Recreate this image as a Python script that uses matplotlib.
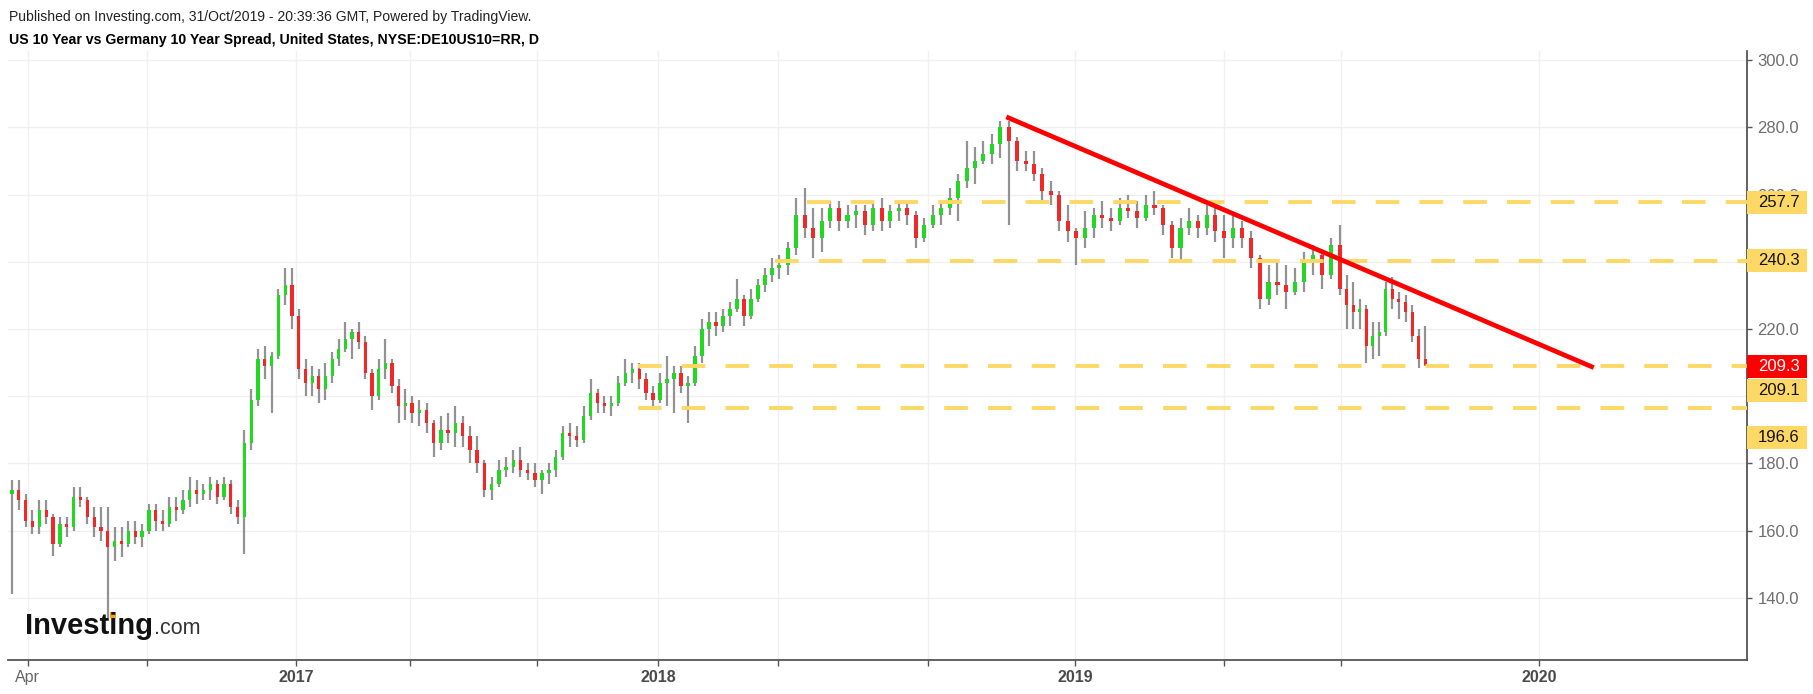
import numpy as np
import pandas as pd
import matplotlib
matplotlib.use("Agg")
import matplotlib.pyplot as plt
import matplotlib.dates as mdates
import matplotlib.transforms as mtrans
from matplotlib.patches import Rectangle

plt.rcParams['font.family'] = ['Liberation Sans', 'DejaVu Sans']
plt.rcParams['lines.scale_dashes'] = False

# ---------------- data (weekly OHLC) ----------------
week_start = "2016-03-14"
n_weeks = 190

opens = [171,172,169,163,161,166,164,156,162,161,170,169,164,161,160,155,157,156,160,158,
         160,166,163,162,167,166,169,172,171,172,174,170,174,167,164,186,199,211,209,212,230,233,
         224,208,204,206,202,206,211,214,217,219,216,207,200,208,210,203,197,198,195,196,
         192,186,190,189,192,188,184,180,172,174,178,179,181,178,177,175,177,178,182,189,
         188,187,194,201,198,197,198,204,207,208,205,201,
         199,204,205,207,203,204,212,220,222,221,224,226,229,224,229,233,236,238,239,244,
         254,250,247,252,256,252,254,255,251,256,252,255,256,254,247,251,254,256,259,264,
         268,270,272,275,280,276,270,269,266,261,260,252,249,
         247,250,254,253,252,256,255,253,257,256,251,244,250,252,250,254,249,247,250,247,
         241,229,234,233,231,234,240,242,236,245,232,227,225,226,215,218,219,232,229,228,
         225,218,211]
highs = [175,175,171,166,169,169,165,164,164,173,173,170,167,167,167,161,161,163,163,162,
         168,168,166,170,170,172,176,175,174,176,175,176,175,169,190,202,214,215,213,232,238,238,
         226,211,209,208,210,213,217,222,220,222,218,208,211,217,211,205,202,200,199,198,
         193,194,195,197,194,191,188,181,176,181,182,184,185,180,180,178,180,184,191,192,
         191,197,205,202,200,200,206,211,210,210,207,203,
         207,212,209,209,206,215,223,225,225,226,228,235,230,232,235,238,241,242,246,259,
         262,256,256,258,258,257,257,257,258,259,257,258,258,255,253,257,258,262,266,276,
         274,276,278,282,282,277,273,273,268,264,261,257,250,
         255,256,258,256,259,260,258,260,261,257,252,253,256,254,257,256,254,254,252,249,
         242,239,240,239,238,243,245,243,247,251,236,234,229,227,222,222,234,235.5,231,230,
         227,220,221]
lows = [141,166,161,159,159,162,152.5,155,158,160,167,162,158,157,134,151,152,155,156,155,
        159,160,160,161,163,165,167,168,169,169,168,169,165,162,153,184,197,205,195,211,227,220,
        205,200,200,198,199,204,209,213,211,214,205,196,199,205,201,192,193,192,191,189,
        182,184,186,185,185,180,177,170,169,173,176,177,176,175,173,171,174,176,181,185,
        185,186,193,195,195,194,197,203,204,202,199,196,
        198,197,195,201,192,203,210,215,218,219,221,225,221,223,228,231,234,235,236,242,
        247,241,243,250,249,250,250,248,249,249,250,252,251,244,246,250,251,254,252,262,
        263,269,269,271,251,267,267,264,258,257,249,246,239,
        244,247,250,249,251,253,250,252,254,248,241,240,248,247,248,246,241,244,244,238,
        226,227,230,226,230,231,236,232,235,230,220,220,220,210,211,212,218,226,223,222,
        216,208.5,209]
closes = [172,169,163,161,166,164,156,162,161,170,169,164,161,160,155,157,156,160,158,160,
          166,163,162,167,166,169,172,171,172,174,170,174,167,164,186,199,211,209,212,230,233,224,
          208,204,206,202,206,211,214,217,219,216,207,200,208,210,203,197,198,195,196,192,
          186,190,189,192,188,184,180,172,174,178,179,181,178,177,175,177,178,182,189,188,
          187,194,201,198,197,198,204,207,208,205,201,199,
          204,205,207,203,204,212,220,222,221,224,226,229,224,229,233,236,238,239,244,254,
          250,247,252,256,252,254,255,251,256,252,255,256,254,247,251,254,256,259,264,268,
          270,272,275,280,276,270,269,266,261,260,252,249,247,
          250,254,253,252,256,255,253,257,256,251,244,250,252,250,254,249,247,250,247,241,
          229,234,233,231,234,240,242,236,245,232,227,225,226,215,218,219,232,229,228,225,
          218,211,209.3]

# horizontal support / resistance levels and their start dates
level_values = [257.7, 240.3, 209.1, 196.6]
level_starts = ["2018-05-25", "2018-04-28", "2017-12-12", "2017-12-12"]
last_price = 209.3

# trend line (start date, value) -> (end date, value)
trend_dates = ["2018-11-05", "2020-01-31"]
trend_values = [283.1, 208.5]

# x ticks
tick_dates = ["2016-04-01", "2016-08-01", "2017-01-01", "2017-05-01", "2017-09-01",
              "2018-01-01", "2018-05-01", "2018-09-01", "2019-01-01", "2019-05-01",
              "2019-08-01", "2020-01-01"]
tick_labels = ["Apr", "", "2017", "", "", "2018", "", "", "2019", "", "", "2020"]
y_ticks = [140, 160, 180, 200, 220, 240, 260, 280, 300]

# ---------------- layout ----------------
W, H = 1813, 694
fig = plt.figure(figsize=(W / 100, H / 100), dpi=100)
ax_l, ax_r, ax_t, ax_b = 8, 1747, 51, 660
ax = fig.add_axes([ax_l / W, 1 - ax_b / H, (ax_r - ax_l) / W, (ax_b - ax_t) / H])

# TradingView-like uneven time axis (bar spacing), anchored on the tick positions
anc_dates = ["2016-03-12", "2016-04-01", "2016-08-01", "2017-01-01", "2017-05-01",
             "2017-09-01", "2018-01-01", "2018-05-01", "2018-09-01", "2019-01-01",
             "2019-05-01", "2019-08-01", "2019-11-01", "2020-01-01", "2020-04-24"]
anc_px = [8, 27.6, 147, 296, 410, 537, 658, 778, 928, 1075, 1224, 1341, 1427, 1539, 1747]
anc_d = mdates.date2num(pd.to_datetime(anc_dates))
anc_p = np.array(anc_px, dtype=float)


def fwd(x):
    return np.interp(np.asarray(x, dtype=float), anc_d, anc_p)


def inv(p):
    return np.interp(np.asarray(p, dtype=float), anc_p, anc_d)


ax.set_xscale('function', functions=(fwd, inv))
ax.set_xlim(anc_d[0], anc_d[-1])
ymin = 300 - (ax_b - 60.1) / 3.3606
ymax = 300 + (60.1 - ax_t) / 3.3606
ax.set_ylim(ymin, ymax)

# ---------------- candles ----------------
dates = pd.date_range(week_start, periods=n_weeks, freq="7D") + pd.Timedelta(days=2)
x = mdates.date2num(dates)
o = np.array(opens, float); h = np.array(highs, float)
l = np.array(lows, float); c = np.array(closes, float)
up = c >= o
green, red, wick = "#22d822", "#f02828", "#929292"
ax.vlines(x, l, h, color=wick, lw=1.6, zorder=2)
body_h = np.where(np.abs(c - o) < 0.4, 0.4, c - o)
ax.bar(x, body_h, bottom=o, width=3.3, color=np.where(up, green, red),
       linewidth=0, zorder=3)

# ---------------- levels ----------------
yellow = "#fdd865"
for v, s in zip(level_values, level_starts):
    ax.hlines(v, mdates.date2num(pd.Timestamp(s)), anc_d[-1], color=yellow,
              lw=2.8, linestyles=(0, (17, 14.5)), zorder=4)

ax.plot(mdates.date2num(pd.to_datetime(trend_dates)), trend_values, color="#ff0000",
        lw=3.4, solid_capstyle="butt", zorder=5)

# ---------------- axes styling ----------------
for side in ("left", "top"):
    ax.spines[side].set_visible(False)
for side in ("right", "bottom"):
    ax.spines[side].set_color("#555555")
    ax.spines[side].set_linewidth(1.3)

ax.yaxis.tick_right()
ax.set_yticks(y_ticks)
ax.set_yticklabels([f"{v:.1f}" for v in y_ticks])
ax.tick_params(axis="y", direction="out", length=3.5, width=1, color="#555555",
               labelsize=12, labelcolor="#6e6e6e", pad=4)
ax.set_xticks(mdates.date2num(pd.to_datetime(tick_dates)))
ax.set_xticklabels(tick_labels)
ax.xaxis.set_minor_locator(matplotlib.ticker.NullLocator())
ax.tick_params(axis="x", direction="out", length=4.5, width=1, color="#555555",
               labelsize=11.5, labelcolor="#4a4a4a", pad=3)
for t in ax.get_xticklabels():
    if t.get_text() and t.get_text() != "Apr":
        t.set_fontweight("bold")
    else:
        t.set_color("#666666")
ax.grid(True, color="#f0f0f0", lw=1, zorder=0)
ax.set_axisbelow(True)

# ---------------- price labels on the right axis ----------------
label_y = [257.7, 240.3, 201.8, 187.7]   # label positions (shifted to avoid overlap)
trans = mtrans.blended_transform_factory(ax.transAxes, ax.transData)
box_w = 60 / (ax_r - ax_l)
half_h = 11.5 / 3.3606


def price_box(yc, text, face, tc):
    ax.add_patch(Rectangle((1.0, yc - half_h), box_w, 2 * half_h, transform=trans,
                           facecolor=face, edgecolor="none", clip_on=False, zorder=10))
    ax.text(1.0 + 32 / (ax_r - ax_l), yc, text, transform=trans, ha="center", va="center",
            fontsize=12, color=tc, zorder=11, clip_on=False)


for v, yc in zip(level_values, label_y):
    price_box(yc, f"{v:.1f}", yellow, "#111111")
price_box(last_price - 0.4, f"{last_price:.1f}", "#ff0000", "#ffffff")

# ---------------- header texts ----------------
fig.text(9 / W, 1 - 17 / H,
         "Published on Investing.com, 31/Oct/2019 - 20:39:36 GMT, Powered by TradingView.",
         fontsize=10.1, color="#222222", va="center", ha="left")
fig.text(9 / W, 1 - 40 / H,
         "US 10 Year vs Germany 10 Year Spread, United States, NYSE:DE10US10=RR, D",
         fontsize=10.2, fontweight="bold", color="#000000", va="center", ha="left")

# ---------------- logo ----------------
idt = mtrans.IdentityTransform()
base_y = H - 634
logo = fig.text(25, base_y, "Investing", transform=idt, fontsize=21, fontweight="bold",
                color="#111111", va="baseline", ha="left")
renderer = fig.canvas.get_renderer()
bb = logo.get_window_extent(renderer)
fig.text(bb.x1 + 1, base_y, ".com", transform=idt, fontsize=15.5, color="#333333",
         va="baseline", ha="left")
pre = fig.text(25, base_y, "Invest", transform=idt, fontsize=21, fontweight="bold",
               va="baseline", ha="left", alpha=0)
bi = fig.text(25, base_y, "Investi", transform=idt, fontsize=21, fontweight="bold",
              va="baseline", ha="left", alpha=0)
x0 = pre.get_window_extent(renderer).x1
x1 = bi.get_window_extent(renderer).x1
cx = (x0 + x1) / 2
fig.patches.append(Rectangle((cx - 3.0, base_y + 16.5), 6.0, 5.5, transform=idt,
                             facecolor="#f5a01a", edgecolor="none", figure=fig))

fig.savefig("out.png", dpi=100, facecolor="white")
